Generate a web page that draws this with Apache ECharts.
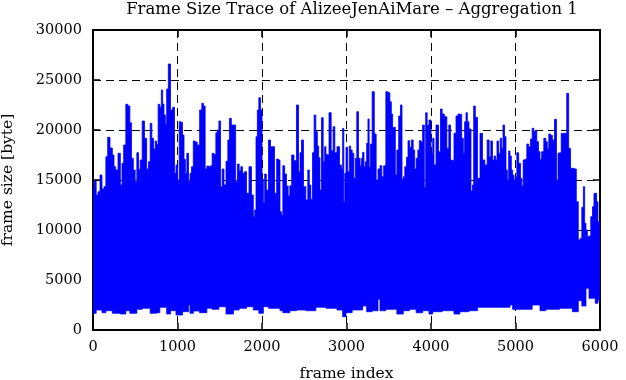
<!DOCTYPE html>
<html><head><meta charset="utf-8">
<script src="https://cdn.jsdelivr.net/npm/echarts@6/dist/echarts.min.js"></script>
<style>html,body{margin:0;padding:0;background:#fff}#c{width:626px;height:380px}</style>
</head><body><div id="c"></div>
<script>
const chartTitle = 'Frame Size Trace of AlizeeJenAiMare \u2013 Aggregation 1';
const xName = 'frame index';
const yName = 'frame size [byte]';
const xMin = 0, xMax = 6000, xStep = 1000;
const yMin = 0, yMax = 30000, yStep = 5000;

// upper envelope (frame index, frame size)
const peakFrames = [0,28,47,71,95,118,142,162,185,217,241,256,280,312,335,351,375,402,426,446,465,489,509,529,548,568,596,623,647,667,686,706,726,746,761,781,801,817,832,848,864,880,903,931,955,974,990,1010,1030,1049,1069,1085,1101,1120,1140,1156,1175,1199,1219,1246,1278,1298,1317,1337,1357,1381,1400,1420,1444,1464,1480,
1500,1519,1538,1562,1586,1605,1625,1649,1676,1700,1720,1740,1759,1779,1803,1830,1862,1889,1905,1921,1937,1953,1972,1992,2008,2024,2039,2063,2091,2110,2134,2162,2185,2205,2221,2237,2256,2280,2300,2319,2339,2363,2394,2422,2442,2458,2477,2505,2532,2552,2568,2588,2607,2627,2647,2663,2678,2694,2714,2734,2749,2765,2781,2805,2832,2852,2872,2903,
2931,2947,2962,2974,2986,3002,3026,3041,3057,3077,3097,3112,3132,3152,3168,3183,3199,3215,3231,3246,3262,3274,3290,3317,3341,3361,3385,3408,3428,3452,3479,3503,3523,3538,3554,3570,3586,3606,3629,3649,3665,3680,3700,3720,3736,3755,3779,3799,3814,3834,3854,3870,3889,3913,3929,3945,3964,3988,4012,4028,4043,4075,4103,4122,4142,4174,4201,4221,4241,4260,4284,4308,4331,
4351,4375,4390,4406,4422,4438,4461,4485,4497,4513,4536,4564,4596,4623,4651,4678,4698,4718,4737,4757,4773,4789,4809,4828,4844,4860,4880,4895,4911,4927,4943,4958,4974,4990,5006,5026,5049,5069,5081,5100,5124,5144,5168,5187,5207,5227,5242,5262,5282,5298,5321,5349,5369,5384,5404,5424,5448,5475,5495,5511,5530,5552,5574,5596,5617,5641,5662,5684,5708,5731,5755,5775,5795,5811,5826,5842,5860,5880,5901,5921,5936,5952,5968,5984,6000];
const peakSizes = [14170,14900,13500,13830,15500,14100,14330,17330,19270,18200,17500,16330,16000,17670,14500,16670,18500,22570,22400,20730,17170,16000,14830,17730,16070,17000,20900,19170,16100,16830,20670,19170,18100,18900,18570,22570,22270,24000,22600,21500,20600,24100,26600,22000,22270,15670,16500,15000,20830,20770,19500,17070,15670,17670,14830,15670,16330,18900,18800,18500,22000,22670,22400,16100,16400,16330,16430,17670,17570,19730,20000,
20900,14330,16100,14500,16870,19000,21170,20500,20500,14830,16600,15900,16330,15670,15830,13670,16330,13500,11330,12000,19330,22000,23230,22000,15070,12730,15600,14000,19000,18330,18330,13670,17100,17000,11830,11500,16430,15600,14400,13430,14430,17500,16930,22500,15830,17730,19000,14330,13000,16000,14500,13070,17730,21500,19830,18400,17230,14000,21230,16830,18330,17570,17500,21730,17930,20330,17730,18330,
16500,16100,20170,12830,15670,18270,15830,18400,18000,17670,15170,17170,21830,17170,16430,17170,17770,16330,16830,18670,21100,16330,18600,23830,19600,15000,16100,16430,15330,16430,23830,23730,22830,21600,20270,20270,15500,18000,21400,22500,15070,15330,16330,17270,18930,18270,19000,18000,16100,17170,18000,18930,18830,20500,14270,21730,20470,21000,17670,19170,16500,20500,17830,22100,21600,21330,18170,20500,17000,16930,19670,21400,21600,
21570,19170,17670,20830,21730,20830,20100,13900,14500,22400,21270,15170,19670,17000,16500,19000,17330,18900,17000,17400,17000,18900,17670,19170,18170,20500,19330,16000,15000,17900,17400,16000,15500,15000,15330,17730,16670,15170,14400,17000,17070,18600,18330,19100,20170,19830,19930,18830,17830,17070,17830,19170,18830,18100,19600,19470,19000,21070,15000,17670,17730,19670,19670,19670,23670,18170,16170,16170,16100,12830,9000,9170,12270,14330,10670,10000,9330,9400,11330,12330,13670,13670,12830,10830,10830];

// lower envelope: from each start frame on, the smallest frame sizes
const floorFrames = [0,39,118,158,237,316,394,434,513,592,671,750,789,868,927,986,1065,1124,1144,1183,1262,1341,1420,1499,1578,1657,1736,1815,1893,1972,
2012,2091,2209,2249,2328,2406,2525,2643,2762,2880,2959,2998,3077,3196,3235,3314,3373,3393,3472,3590,3669,3748,3827,3905,3984,
4024,4142,4261,4340,4458,4537,4931,4971,5207,5286,5365,5523,5681,5740,5780,5839,5878,5937,5977];
const floorSizes = [1670,2000,1730,1930,1670,1600,1930,1670,2070,2170,1670,1730,2270,1600,1930,1500,1830,2500,1670,1900,1730,2170,2070,2330,1600,2000,2170,2330,2000,1670,
2330,2170,1930,1730,1930,2000,1930,2270,2170,2000,1330,1730,2000,2400,1830,1930,3070,1930,2070,1600,1930,2070,1730,1930,1600,
1830,1930,1600,1830,1930,2270,2500,2070,2500,1930,2070,2170,1830,2930,2400,4170,3170,2670,3000];

function floorAt(f) {
  let v = floorSizes[0];
  for (let k = 0; k < floorFrames.length; k++) { if (floorFrames[k] <= f) v = floorSizes[k]; }
  return v;
}
// each item: [first frame, last frame, smallest size, largest size] of a run of frames
const n = peakFrames.length;
const runs = peakFrames.map((f, i) => {
  const a = i === 0 ? xMin : (peakFrames[i - 1] + f) / 2;
  const b = i === n - 1 ? xMax : (f + peakFrames[i + 1]) / 2;
  return [a, b, floorAt(f), peakSizes[i]];
});

// the whole trace is drawn as one filled outline: tops of all runs, then their bottoms
function renderTrace(params, api) {
  if (params.dataIndex !== 0) return null;
  const top = [], bottom = [];
  for (const r of runs) {
    top.push(api.coord([r[0], r[3]]), api.coord([r[1], r[3]]));
    bottom.push(api.coord([r[0], r[2]]), api.coord([r[1], r[2]]));
  }
  const pts = top.concat(bottom.reverse());
  return {type: 'polygon', shape: {points: pts},
    style: {fill: '#0000ff', stroke: '#0000ff', lineWidth: 0.8, lineJoin: 'miter'}};
}

const FONT = 'DejaVu Serif';
const txt = {color: '#000', fontFamily: FONT, fontSize: 14.5};
const nameTxt = {color: '#000', fontFamily: FONT, fontSize: 15.5};
const border = {show: true, onZero: false, lineStyle: {color: '#000', width: 2}};
const tick = {show: true, inside: true, length: 7, lineStyle: {color: '#000', width: 1.5}};
const grid = {show: true, lineStyle: {color: '#000', width: 1, type: [8, 5]}};
const plain = v => String(v);

const chart = echarts.init(document.getElementById('c'), null, {renderer: 'canvas'});
chart.setOption({
  animation: false,
  backgroundColor: '#fff',
  title: {text: chartTitle, left: 347, top: -4, textAlign: 'center',
    textStyle: {color: '#000', fontFamily: FONT, fontSize: 16.5, fontWeight: 'normal'}},
  grid: {left: 93, right: 26, top: 30, bottom: 50, containLabel: false, outerBoundsMode: 'none'},
  xAxis: [
    {type: 'value', position: 'bottom', min: xMin, max: xMax, interval: xStep,
     axisLine: border, axisTick: tick, splitLine: grid,
     axisLabel: Object.assign({margin: 10, formatter: plain}, txt),
     name: xName, nameLocation: 'middle', nameGap: 36, nameTextStyle: nameTxt},
    {type: 'value', position: 'top', min: xMin, max: xMax, interval: xStep,
     axisLine: border, axisTick: tick, splitLine: {show: false}, axisLabel: {show: false}}
  ],
  yAxis: [
    {type: 'value', position: 'left', min: yMin, max: yMax, interval: yStep,
     axisLine: border, axisTick: tick, splitLine: grid,
     axisLabel: Object.assign({margin: 11, formatter: plain}, txt),
     name: yName, nameLocation: 'middle', nameGap: 77, nameRotate: 90, nameTextStyle: nameTxt},
    {type: 'value', position: 'right', min: yMin, max: yMax, interval: yStep,
     axisLine: border, axisTick: tick, splitLine: {show: false}, axisLabel: {show: false}}
  ],
  series: [{
    type: 'custom', name: 'frame size', xAxisIndex: 0, yAxisIndex: 0, clip: true,
    data: runs, encode: {x: [0, 1], y: [2, 3]}, renderItem: renderTrace, z: 2
  }]
});
</script></body></html>
